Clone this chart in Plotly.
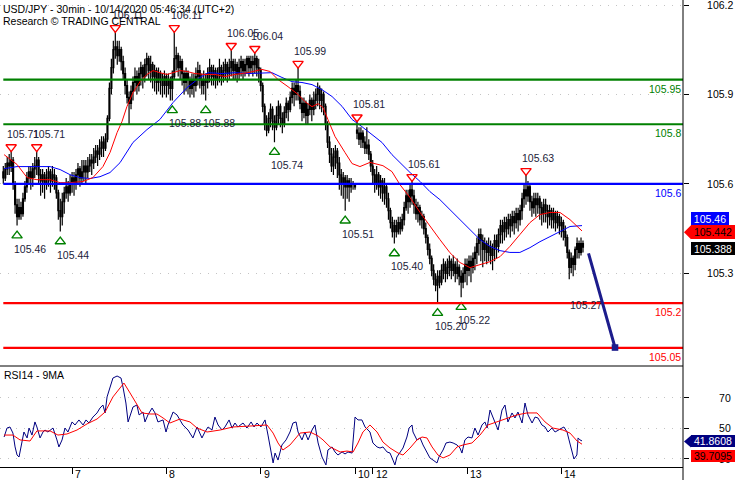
import plotly.graph_objects as go

# ---------------- data ----------------
CLOSE = [
    105.62, 105.65, 105.67, 105.66, 105.68, 105.60, 105.53, 105.49, 105.52, 105.50,
    105.55, 105.59, 105.62, 105.64, 105.62, 105.65, 105.66, 105.68, 105.63, 105.61,
    105.63, 105.60, 105.62, 105.64, 105.61, 105.63, 105.62, 105.57, 105.51, 105.49,
    105.54, 105.57, 105.59, 105.57, 105.60, 105.62, 105.60, 105.63, 105.65, 105.62,
    105.64, 105.66, 105.64, 105.66, 105.68, 105.67, 105.69, 105.71, 105.70, 105.72,
    105.74, 105.72, 105.75, 105.82, 105.92, 105.99, 106.05, 106.06, 106.03, 106.05,
    106.01, 105.97, 105.93, 105.89, 105.87, 105.91, 105.94, 105.96, 105.93, 105.97,
    105.99, 105.96, 106.00, 106.02, 105.98, 106.00, 105.96, 105.98, 105.94, 105.97,
    105.95, 105.93, 105.96, 105.93, 105.95, 105.92, 105.96, 106.02, 106.03, 105.99,
    106.01, 105.97, 105.94, 105.97, 105.95, 105.92, 105.95, 105.93, 105.96, 105.98,
    105.95, 105.93, 105.95, 105.94, 105.97, 105.99, 105.96, 105.98, 105.95, 105.97,
    105.99, 105.96, 105.98, 106.00, 105.97, 105.99, 106.01, 105.98, 106.00, 105.97,
    105.99, 106.01, 105.98, 106.00, 106.02, 105.99, 106.01, 106.00, 106.02, 105.99,
    105.98, 105.93, 105.86, 105.80, 105.78, 105.82, 105.85, 105.81, 105.79, 105.83,
    105.86, 105.82, 105.80, 105.84, 105.87, 105.85, 105.89, 105.92, 105.90, 105.93,
    105.91, 105.87, 105.84, 105.87, 105.83, 105.85, 105.88, 105.85, 105.88, 105.90,
    105.92, 105.88, 105.90, 105.86, 105.80, 105.74, 105.70, 105.66, 105.69, 105.71,
    105.67, 105.63, 105.60, 105.62, 105.59, 105.61, 105.59, 105.60, 105.60, 105.59,
    105.77, 105.75, 105.77, 105.74, 105.72, 105.73, 105.70, 105.66, 105.63, 105.60,
    105.63, 105.59, 105.61, 105.57, 105.59, 105.55, 105.51, 105.47, 105.44, 105.46,
    105.44, 105.47, 105.45, 105.48, 105.52, 105.56, 105.54, 105.58, 105.56, 105.53,
    105.50, 105.52, 105.48, 105.49, 105.45, 105.42, 105.38, 105.35, 105.31, 105.28,
    105.26, 105.29, 105.27, 105.31, 105.33, 105.30, 105.32, 105.34, 105.31, 105.33,
    105.30, 105.32, 105.29, 105.27, 105.30, 105.33, 105.31, 105.34, 105.32, 105.35,
    105.37, 105.40, 105.43, 105.41, 105.38, 105.40, 105.37, 105.39, 105.36, 105.38,
    105.41, 105.39, 105.43, 105.46, 105.44, 105.47, 105.45, 105.48, 105.46, 105.49,
    105.47, 105.50, 105.48, 105.51, 105.55, 105.58, 105.56, 105.59, 105.54, 105.52,
    105.55, 105.53, 105.55, 105.52, 105.50, 105.53, 105.51, 105.49, 105.51, 105.48,
    105.50, 105.47, 105.49, 105.46, 105.47, 105.44, 105.42, 105.37, 105.32, 105.35,
    105.33, 105.38, 105.40, 105.37, 105.40, 105.388,
]
HIGH = [
    105.66, 105.67, 105.69, 105.70, 105.71, 105.69, 105.61, 105.55, 105.55, 105.54,
    105.57, 105.61, 105.64, 105.66, 105.66, 105.67, 105.69, 105.71, 105.69, 105.65,
    105.65, 105.64, 105.65, 105.66, 105.65, 105.66, 105.65, 105.63, 105.58, 105.55,
    105.57, 105.59, 105.62, 105.61, 105.63, 105.64, 105.64, 105.65, 105.67, 105.66,
    105.68, 105.68, 105.68, 105.69, 105.70, 105.70, 105.72, 105.73, 105.73, 105.75,
    105.76, 105.76, 105.77, 105.83, 105.94, 106.02, 106.08, 106.11, 106.08, 106.08,
    106.06, 106.03, 105.99, 105.95, 105.91, 105.93, 105.96, 105.99, 105.98, 105.99,
    106.01, 106.00, 106.02, 106.04, 106.03, 106.03, 106.01, 106.00, 105.99, 105.99,
    105.98, 105.97, 105.98, 105.97, 105.97, 105.96, 105.98, 106.11, 106.06, 106.04,
    106.03, 106.02, 105.98, 105.99, 105.98, 105.96, 105.97, 105.97, 105.99, 106.01,
    106.00, 105.97, 105.98, 105.97, 105.99, 106.02, 106.00, 106.00, 105.99, 105.99,
    106.02, 106.00, 106.01, 106.02, 106.01, 106.02, 106.05, 106.02, 106.02, 106.01,
    106.02, 106.03, 106.02, 106.02, 106.03, 106.03, 106.03, 106.03, 106.04, 106.03,
    106.02, 105.99, 105.94, 105.87, 105.83, 105.84, 105.87, 105.86, 105.83, 105.86,
    105.88, 105.87, 105.84, 105.86, 105.89, 105.88, 105.91, 105.94, 105.94, 105.95,
    105.99, 105.93, 105.89, 105.89, 105.88, 105.87, 105.90, 105.89, 105.91, 105.92,
    105.94, 105.93, 105.92, 105.91, 105.87, 105.81, 105.76, 105.72, 105.72, 105.73,
    105.72, 105.69, 105.65, 105.64, 105.63, 105.63, 105.62, 105.62, 105.61, 105.60,
    105.81, 105.79, 105.79, 105.78, 105.76, 105.79, 105.75, 105.71, 105.68, 105.65,
    105.66, 105.64, 105.63, 105.62, 105.62, 105.60, 105.57, 105.52, 105.49, 105.48,
    105.48, 105.49, 105.49, 105.50, 105.54, 105.58, 105.58, 105.60, 105.61, 105.58,
    105.55, 105.54, 105.53, 105.51, 105.50, 105.47, 105.43, 105.40, 105.36, 105.33,
    105.30, 105.31, 105.31, 105.33, 105.35, 105.34, 105.35, 105.36, 105.35, 105.36,
    105.34, 105.35, 105.33, 105.31, 105.32, 105.35, 105.35, 105.36, 105.36, 105.37,
    105.39, 105.42, 105.45, 105.45, 105.43, 105.42, 105.41, 105.42, 105.41, 105.40,
    105.43, 105.43, 105.45, 105.48, 105.48, 105.49, 105.49, 105.50, 105.50, 105.51,
    105.51, 105.52, 105.52, 105.53, 105.57, 105.60, 105.63, 105.61, 105.60, 105.56,
    105.57, 105.57, 105.57, 105.56, 105.54, 105.55, 105.55, 105.53, 105.53, 105.52,
    105.52, 105.51, 105.51, 105.50, 105.49, 105.48, 105.46, 105.43, 105.38, 105.37,
    105.36, 105.39, 105.42, 105.41, 105.42, 105.41,
]
LOW = [
    105.60, 105.61, 105.63, 105.63, 105.64, 105.58, 105.50, 105.46, 105.48, 105.48,
    105.49, 105.54, 105.57, 105.60, 105.58, 105.59, 105.62, 105.63, 105.60, 105.56,
    105.57, 105.55, 105.58, 105.59, 105.57, 105.59, 105.58, 105.55, 105.48, 105.44,
    105.46, 105.50, 105.55, 105.54, 105.56, 105.57, 105.56, 105.58, 105.60, 105.59,
    105.60, 105.61, 105.60, 105.62, 105.64, 105.63, 105.65, 105.67, 105.66, 105.68,
    105.69, 105.69, 105.71, 105.74, 105.81, 105.90, 105.97, 106.02, 106.00, 106.01,
    105.98, 105.95, 105.90, 105.87, 105.80, 105.85, 105.88, 105.91, 105.90, 105.91,
    105.93, 105.92, 105.94, 105.96, 105.95, 105.94, 105.92, 105.91, 105.90, 105.91,
    105.90, 105.89, 105.90, 105.89, 105.90, 105.88, 105.88, 105.95, 105.98, 105.96,
    105.95, 105.93, 105.90, 105.91, 105.90, 105.89, 105.90, 105.89, 105.91, 105.93,
    105.92, 105.90, 105.90, 105.88, 105.92, 105.94, 105.93, 105.93, 105.92, 105.93,
    105.94, 105.93, 105.94, 105.95, 105.94, 105.95, 105.96, 105.95, 105.95, 105.94,
    105.95, 105.96, 105.95, 105.96, 105.97, 105.96, 105.97, 105.96, 105.97, 105.96,
    105.94, 105.91, 105.84, 105.78, 105.76, 105.77, 105.79, 105.78, 105.74, 105.78,
    105.80, 105.79, 105.77, 105.79, 105.82, 105.81, 105.84, 105.87, 105.86, 105.88,
    105.88, 105.85, 105.81, 105.82, 105.80, 105.80, 105.83, 105.81, 105.83, 105.85,
    105.86, 105.85, 105.84, 105.83, 105.78, 105.72, 105.67, 105.64, 105.63, 105.65,
    105.62, 105.58, 105.56, 105.55, 105.51, 105.55, 105.54, 105.57, 105.58, 105.58,
    105.75, 105.73, 105.72, 105.72, 105.70, 105.70, 105.68, 105.64, 105.60, 105.57,
    105.58, 105.56, 105.55, 105.54, 105.53, 105.52, 105.48, 105.45, 105.42, 105.40,
    105.42, 105.43, 105.43, 105.44, 105.46, 105.51, 105.50, 105.52, 105.53, 105.50,
    105.48, 105.47, 105.46, 105.45, 105.43, 105.40, 105.36, 105.33, 105.29, 105.26,
    105.24, 105.20, 105.25, 105.26, 105.28, 105.27, 105.28, 105.29, 105.28, 105.29,
    105.27, 105.28, 105.26, 105.22, 105.25, 105.27, 105.26, 105.29, 105.27, 105.30,
    105.31, 105.33, 105.36, 105.34, 105.32, 105.34, 105.33, 105.34, 105.33, 105.31,
    105.34, 105.35, 105.37, 105.40, 105.40, 105.41, 105.42, 105.43, 105.42, 105.44,
    105.43, 105.45, 105.44, 105.46, 105.48, 105.52, 105.53, 105.54, 105.51, 105.49,
    105.50, 105.49, 105.50, 105.48, 105.46, 105.47, 105.47, 105.45, 105.46, 105.45,
    105.45, 105.44, 105.45, 105.43, 105.42, 105.41, 105.39, 105.35, 105.28, 105.30,
    105.29, 105.31, 105.35, 105.35, 105.36, 105.37,
]
FIRST_OPEN = 105.64
GAP_OPENS = {180: 105.78}

RED_MA_X = [0.4, 7.0, 12.1, 17.1, 23.8, 28.9, 33.9, 40.6, 45.6, 50.7,
            54.3, 57.9, 60.4, 62.9, 66.0, 69.6, 73.1, 76.2, 79.7, 83.3,
            86.4, 89.9, 93.5, 97.6, 102.6, 107.7, 112.8, 117.9, 124.5, 131.6,
            135.7, 139.8, 144.9, 150.0, 153.5, 157.1, 160.2, 162.7, 165.2, 168.8,
            173.9, 177.5, 181.5, 186.6, 193.2, 197.8, 201.9, 207.0, 212.1, 217.1,
            222.2, 227.3, 232.4, 237.5, 242.6, 247.7, 252.8, 257.8, 262.9, 268.0,
            273.1, 278.2, 283.3, 288.4, 294.5]
RED_MA_Y = [105.698, 105.665, 105.621, 105.614, 105.614, 105.604, 105.604, 105.608, 105.621, 105.658,
            105.705, 105.772, 105.809, 105.859, 105.906, 105.943, 105.967, 105.980, 105.973, 105.967,
            105.973, 105.980, 105.977, 105.970, 105.967, 105.967, 105.960, 105.967, 105.973, 105.984,
            105.977, 105.950, 105.926, 105.900, 105.876, 105.859, 105.869, 105.856, 105.816, 105.759,
            105.705, 105.668, 105.658, 105.672, 105.661, 105.641, 105.597, 105.554, 105.504, 105.457,
            105.413, 105.369, 105.336, 105.319, 105.329, 105.339, 105.356, 105.390, 105.430, 105.470,
            105.497, 105.504, 105.504, 105.480, 105.442]

BLUE_MA_X = [0.4, 7.0, 15.1, 23.8, 28.9, 33.9, 39.0, 44.1, 49.2, 54.3,
             59.4, 66.0, 73.1, 79.7, 86.4, 93.5, 100.1, 104.2, 111.3, 117.9,
             124.5, 131.6, 136.7, 141.8, 146.9, 152.0, 157.1, 162.2, 167.3, 172.4,
             177.5, 182.5, 187.6, 192.7, 197.8, 201.9, 207.0, 212.1, 217.1, 222.2,
             227.3, 232.4, 237.5, 242.6, 247.7, 252.8, 257.8, 262.9, 268.0, 273.1,
             278.2, 283.3, 288.4, 294.5]
BLUE_MA_Y = [105.651, 105.658, 105.658, 105.658, 105.648, 105.631, 105.621, 105.618, 105.624, 105.638,
             105.671, 105.739, 105.782, 105.816, 105.873, 105.923, 105.957, 105.973, 105.970, 105.973,
             105.970, 105.973, 105.973, 105.957, 105.943, 105.940, 105.933, 105.916, 105.893, 105.860,
             105.816, 105.792, 105.765, 105.739, 105.698, 105.671, 105.638, 105.608, 105.574, 105.547,
             105.514, 105.480, 105.447, 105.413, 105.390, 105.376, 105.370, 105.370, 105.386, 105.406,
             105.423, 105.440, 105.457, 105.460]

RSI_X = [0.4, 1.9, 3.4, 4.9, 6.0, 7.0, 8.0, 9.5, 10.5, 12.1,
         13.1, 14.6, 16.1, 17.1, 18.7, 20.2, 21.2, 22.7, 25.3, 27.3,
         28.3, 29.9, 31.4, 32.9, 35.0, 36.5, 38.5, 40.6, 42.1, 43.6,
         45.6, 47.7, 49.2, 50.7, 51.8, 52.8, 54.3, 55.8, 57.9, 59.9,
         60.9, 62.4, 63.5, 65.0, 66.0, 68.0, 69.1, 71.1, 72.1, 73.6,
         75.7, 77.2, 78.7, 81.3, 82.8, 83.8, 86.4, 88.4, 89.9, 91.4,
         94.0, 96.5, 98.6, 99.6, 101.1, 102.6, 104.2, 106.2, 107.7, 109.3,
         111.3, 112.8, 114.9, 116.4, 117.9, 119.4, 122.0, 124.0, 126.1, 127.6,
         129.1, 131.1, 133.2, 134.7, 136.2, 137.3, 138.3, 139.8, 141.8, 143.9,
         145.9, 147.4, 149.0, 150.0, 152.0, 153.5, 155.1, 157.1, 158.6, 160.2,
         162.2, 164.2, 165.2, 167.3, 168.8, 170.3, 172.4, 173.9, 175.4, 177.5,
         179.0, 180.5, 182.5, 184.1, 185.6, 186.6, 188.1, 190.2, 191.7, 193.2,
         195.3, 196.8, 198.3, 199.3, 200.3, 201.9, 203.4, 205.4, 206.5, 208.0,
         208.5, 210.5, 212.1, 213.6, 215.6, 217.1, 218.7, 220.7, 221.7, 223.8,
         225.3, 227.3, 228.9, 230.9, 232.4, 233.4, 234.9, 236.5, 238.5, 240.0,
         241.6, 243.6, 245.1, 246.2, 247.7, 249.2, 250.2, 251.8, 253.8, 255.3,
         256.8, 258.9, 260.4, 261.9, 264.0, 265.5, 267.0, 269.1, 270.6, 272.1,
         274.1, 275.7, 277.2, 279.2, 280.8, 282.3, 284.3, 285.3, 286.9, 287.9,
         289.4, 290.4, 291.9, 292.5, 293.5, 294.5]
RSI_Y = [44.4, 50.3, 51.0, 47.0, 37.9, 32.6, 31.3, 40.5, 47.7, 43.8,
         50.3, 45.7, 54.3, 51.0, 43.8, 47.7, 49.0, 47.7, 50.3, 42.5,
         37.9, 42.5, 50.3, 47.7, 54.3, 52.3, 55.6, 52.3, 55.6, 53.6,
         57.5, 60.2, 63.4, 65.4, 60.2, 70.7, 77.2, 83.1, 84.4, 83.1,
         77.2, 66.7, 54.3, 60.8, 64.1, 65.4, 58.9, 60.8, 54.3, 58.9,
         63.4, 60.2, 54.3, 55.6, 47.7, 52.3, 60.8, 58.9, 55.6, 52.3,
         49.0, 43.8, 51.0, 47.7, 43.8, 47.7, 51.0, 49.0, 57.5, 52.3,
         49.0, 51.0, 55.6, 50.3, 53.6, 51.0, 53.6, 50.3, 54.3, 51.0,
         53.6, 51.0, 55.6, 45.7, 33.9, 27.4, 33.9, 29.3, 39.2, 42.5,
         47.7, 53.6, 54.3, 47.7, 42.5, 47.7, 42.5, 49.0, 52.3, 40.5,
         31.3, 26.1, 35.9, 37.9, 34.6, 32.6, 34.6, 33.3, 34.6, 33.9,
         57.5, 55.6, 55.6, 51.0, 49.0, 47.7, 40.5, 37.9, 37.2, 37.9,
         34.6, 33.9, 29.3, 26.1, 31.3, 34.6, 37.2, 44.4, 50.3, 52.3,
         47.7, 42.5, 43.8, 39.2, 33.9, 30.7, 29.3, 27.4, 31.3, 35.9,
         40.5, 41.1, 40.5, 39.2, 37.2, 33.9, 42.5, 44.4, 43.8, 50.3,
         45.7, 52.3, 54.3, 50.3, 62.1, 57.5, 54.3, 49.0, 62.1, 65.4,
         54.3, 60.2, 56.9, 60.8, 53.6, 66.7, 58.9, 53.6, 57.5, 56.9,
         52.3, 51.0, 47.7, 50.3, 47.7, 49.0, 50.3, 51.0, 47.7, 42.5,
         35.9, 30.0, 32.6, 43.8, 42.5, 41.86]

RSI_MA_X = [0.4, 4.9, 8.5, 13.6, 17.1, 23.8, 27.8, 32.4, 37.5, 42.6,
            47.7, 51.8, 55.8, 61.4, 64.5, 68.0, 70.6, 74.7, 78.2, 81.3,
            84.8, 89.9, 95.0, 98.6, 103.7, 110.3, 116.9, 125.5, 134.2, 137.3,
            139.8, 142.3, 145.9, 151.0, 156.1, 160.2, 162.7, 166.3, 171.4, 174.9,
            178.0, 180.5, 183.0, 186.6, 190.2, 193.2, 196.8, 200.9, 203.4, 207.0,
            210.5, 213.1, 215.6, 218.2, 221.2, 223.8, 227.3, 230.9, 234.0, 238.5,
            242.6, 246.6, 251.2, 256.3, 261.4, 266.5, 271.6, 275.7, 279.7, 284.8,
            288.4, 292.0, 294.5]
RSI_MA_Y = [45.7, 45.7, 42.5, 41.8, 48.4, 48.4, 45.7, 46.4, 49.0, 53.0,
            56.2, 60.8, 70.7, 79.8, 73.3, 65.4, 60.2, 59.5, 59.5, 56.9,
            53.6, 56.2, 54.3, 50.3, 47.7, 49.0, 51.0, 51.6, 52.3, 47.0,
            40.5, 35.9, 39.2, 47.0, 47.7, 45.1, 42.5, 37.9, 34.6, 35.2,
            34.6, 40.5, 47.7, 52.3, 47.7, 41.1, 37.2, 33.9, 32.6, 37.2,
            42.5, 44.4, 43.8, 37.9, 32.6, 30.7, 32.6, 37.9, 39.2, 40.5,
            45.7, 52.3, 54.3, 56.9, 58.9, 60.2, 60.2, 54.3, 50.3, 49.0,
            47.0, 41.8, 39.71]

LEVELS = [105.95, 105.8, 105.6, 105.2, 105.05]
LEVEL_TEXT = ["105.95", "105.8", "105.6", "105.2", "105.05"]
LEVEL_COLORS = ["#008000", "#008000", "#0000ff", "#ff0000", "#ff0000"]

PEAK_IDX = [4, 17, 57, 87, 116, 128, 150, 180, 208, 266]
PEAK_VAL = [105.71, 105.71, 106.11, 106.11, 106.05, 106.04, 105.99, 105.81, 105.61, 105.63]
TROUGH_IDX = [7, 29, 86, 103, 138, 174, 199, 221, 233]
TROUGH_VAL = [105.46, 105.44, 105.88, 105.88, 105.74, 105.51, 105.40, 105.20, 105.22]
PENDING_IDX = [290]
PENDING_VAL = [105.27]

DAY_TICK_IDX = [35, 83, 131, 179, 188, 236, 284]
DAY_TICK_TEXT = ["7", "8", "9", "10", "12", "13", "14"]
PRICE_TICKS = [105.3, 105.6, 105.9, 106.2]
RSI_TICKS = [30, 50, 70]

LAST_BLUE_MA = 105.46
LAST_RED_MA = 105.442
LAST_CLOSE = 105.388
LAST_RSI = 41.8608
LAST_RSI_MA = 39.7095

ARROW_FROM = (297.6, 105.372)
ARROW_TO = (311.3, 105.051)

TITLE_1 = "USD/JPY - 30min - 10/14/2020 05:46:34 (UTC+2)"
TITLE_2 = "Research \u00a9 TRADING CENTRAL"
RSI_TITLE = "RSI14 - 9MA"

# ---------------- layout constants ----------------
W, H = 735, 480
PLOT_RIGHT = 683
MAIN_BOTTOM = 366
RSI_BOTTOM = 467
X_RANGE = [-1.68, 345.9]
PRICE_RANGE = [104.989, 106.2168]
RSI_RANGE = [24.75, 90.98]
FONT = "Liberation Sans, Arial, sans-serif"
FS = 10.5
LABEL_COLOR = "#1c1c3a"

xdom = [0, PLOT_RIGHT / W]
main_dom = [1 - MAIN_BOTTOM / H, 1]
rsi_dom = [1 - RSI_BOTTOM / H, 1 - MAIN_BOTTOM / H]
price_per_px = (PRICE_RANGE[1] - PRICE_RANGE[0]) / MAIN_BOTTOM
rsi_per_px = (RSI_RANGE[1] - RSI_RANGE[0]) / (RSI_BOTTOM - MAIN_BOTTOM)
RED_OFF = 4 * price_per_px
GREEN_OFF = 10 * price_per_px

# ---------------- candles ----------------
opens = []
for i in range(len(CLOSE)):
    if i in GAP_OPENS:
        opens.append(GAP_OPENS[i])
    elif i == 0:
        opens.append(FIRST_OPEN)
    else:
        opens.append(CLOSE[i - 1])
highs = [max(h, o, c) for h, o, c in zip(HIGH, opens, CLOSE)]
lows = [min(l, o, c) for l, o, c in zip(LOW, opens, CLOSE)]
xs = list(range(len(CLOSE)))

fig = go.Figure()
fig.add_trace(go.Candlestick(
    x=xs, open=opens, high=highs, low=lows, close=CLOSE,
    xaxis="x", yaxis="y",
    increasing=dict(line=dict(color="black", width=1.2), fillcolor="white"),
    decreasing=dict(line=dict(color="black", width=1.2), fillcolor="black"),
    whiskerwidth=0, showlegend=False, hoverinfo="skip"))

fig.add_trace(go.Scatter(x=BLUE_MA_X, y=BLUE_MA_Y, mode="lines", xaxis="x", yaxis="y",
                         line=dict(color="#0000ff", width=1), showlegend=False, hoverinfo="skip"))
fig.add_trace(go.Scatter(x=RED_MA_X, y=RED_MA_Y, mode="lines", xaxis="x", yaxis="y",
                         line=dict(color="#ff0000", width=1), showlegend=False, hoverinfo="skip"))

fig.add_trace(go.Scatter(
    x=PEAK_IDX, y=[v + RED_OFF for v in PEAK_VAL], mode="markers", xaxis="x", yaxis="y",
    marker=dict(symbol="triangle-down-open", size=9, color="#ff0000", line=dict(width=1.4, color="#ff0000")),
    showlegend=False, hoverinfo="skip"))
fig.add_trace(go.Scatter(
    x=TROUGH_IDX, y=[v - GREEN_OFF for v in TROUGH_VAL], mode="markers", xaxis="x", yaxis="y",
    marker=dict(symbol="triangle-up-open", size=9, color="#008000", line=dict(width=1.4, color="#008000")),
    showlegend=False, hoverinfo="skip"))

# RSI panel
fig.add_trace(go.Scatter(x=RSI_X, y=RSI_Y, mode="lines", xaxis="x2", yaxis="y2",
                         line=dict(color="#000080", width=1), showlegend=False, hoverinfo="skip"))
fig.add_trace(go.Scatter(x=RSI_MA_X, y=RSI_MA_Y, mode="lines", xaxis="x2", yaxis="y2",
                         line=dict(color="#ff0000", width=1), showlegend=False, hoverinfo="skip"))

# ---------------- shapes ----------------
shapes = []
for lv, col in zip(LEVELS, LEVEL_COLORS):
    shapes.append(dict(type="line", xref="x", yref="y", x0=0, x1=X_RANGE[1], y0=lv, y1=lv,
                       line=dict(color=col, width=2.2)))
shapes.append(dict(type="line", xref="paper", yref="paper", x0=PLOT_RIGHT / W, x1=PLOT_RIGHT / W,
                   y0=0, y1=1, line=dict(color="black", width=1)))
shapes.append(dict(type="line", xref="paper", yref="paper", x0=0, x1=PLOT_RIGHT / W,
                   y0=1 - MAIN_BOTTOM / H, y1=1 - MAIN_BOTTOM / H, line=dict(color="black", width=1)))


def pointer(value, yref, per_px, color, half_h):
    tip = (PLOT_RIGHT + 1) / W
    base = (PLOT_RIGHT + 8) / W
    return dict(type="path", xref="paper", yref=yref,
                path=f"M {tip},{value} L {base},{value + half_h * per_px} L {base},{value - half_h * per_px} Z",
                fillcolor=color, line=dict(width=0))


shapes.append(pointer(LAST_RED_MA - 1.4 * price_per_px, "y", price_per_px, "#ff0000", 7))
shapes.append(pointer(LAST_RSI - 0.5 * rsi_per_px, "y2", rsi_per_px, "#000080", 6))

# ---------------- annotations ----------------
ann = []
font = dict(family=FONT, size=FS, color=LABEL_COLOR)
for i, v in zip(PEAK_IDX, PEAK_VAL):
    ann.append(dict(x=i, y=v + RED_OFF, xref="x", yref="y", text=f"{v:.2f}", showarrow=False,
                    xshift=12, yshift=13, font=font, borderpad=0))
for i, v in zip(TROUGH_IDX, TROUGH_VAL):
    ann.append(dict(x=i, y=v - GREEN_OFF, xref="x", yref="y", text=f"{v:.2f}", showarrow=False,
                    xshift=13, yshift=-13, font=font, borderpad=0))
for i, v in zip(PENDING_IDX, PENDING_VAL):
    ann.append(dict(x=i, y=v - GREEN_OFF, xref="x", yref="y", text=f"{v:.2f}", showarrow=False,
                    xshift=13, yshift=-13, font=font, borderpad=0))

for lv, txt, col in zip(LEVELS, LEVEL_TEXT, LEVEL_COLORS):
    ann.append(dict(x=(PLOT_RIGHT - 1) / W, y=lv, xref="paper", yref="y", text=txt, showarrow=False,
                    xanchor="right", yanchor="top", yshift=-2, borderpad=0,
                    font=dict(family=FONT, size=FS, color=col)))

for tv, tt in zip(DAY_TICK_IDX, DAY_TICK_TEXT):
    ann.append(dict(x=tv, y=1 - 474 / H, xref="x2", yref="paper", text=tt, showarrow=False,
                    xanchor="left", yanchor="middle", xshift=2, borderpad=0,
                    font=dict(family=FONT, size=FS, color="black")))


def box(text, y, yref, bg, fg, left_px, width, height, yshift):
    return dict(x=left_px / W, y=y, xref="paper", yref=yref, text=text, showarrow=False,
                xanchor="left", yanchor="middle", yshift=yshift, width=width, height=height,
                bgcolor=bg, borderpad=0, borderwidth=0, align="center",
                font=dict(family=FONT, size=FS, color=fg))


ann.append(box(f"{LAST_BLUE_MA:.2f}", LAST_BLUE_MA, "y", "#0000ff", "white", 691, 38, 13, 7.6))
ann.append(box(f"{LAST_RED_MA:.3f}", LAST_RED_MA, "y", "#ff0000", "black", 691, 44, 14, -1.4))
ann.append(box(f"{LAST_CLOSE:.3f}", LAST_CLOSE, "y", "#000000", "white", 691, 44, 13, -1))
ann.append(box(f"{LAST_RSI:.4f}", LAST_RSI, "y2", "#000080", "white", 691, 44, 12, -0.5))
ann.append(box(f"{LAST_RSI_MA:.4f}", LAST_RSI_MA, "y2", "#ff0000", "black", 691, 44, 12, -12))

ann.append(dict(x=ARROW_TO[0], y=ARROW_TO[1], ax=ARROW_FROM[0], ay=ARROW_FROM[1],
                xref="x", yref="y", axref="x", ayref="y", text="", showarrow=True,
                arrowhead=7, arrowsize=0.55, arrowwidth=3, arrowcolor="#1c1c8c"))

for txt, ypx, xpx in [(TITLE_1, 9, 2), (TITLE_2, 21, 2), (RSI_TITLE, 375, 3)]:
    ann.append(dict(x=xpx / W, y=1 - ypx / H, xref="paper", yref="paper", text=txt, showarrow=False,
                    xanchor="left", yanchor="middle", borderpad=0,
                    font=dict(family=FONT, size=FS, color="black")))

fig.update_layout(
    width=W, height=H, margin=dict(l=0, r=0, t=0, b=0),
    paper_bgcolor="white", plot_bgcolor="white",
    font=dict(family=FONT, size=FS, color="black"),
    showlegend=False, hovermode=False,
    shapes=shapes, annotations=ann,
    xaxis=dict(domain=xdom, range=X_RANGE, anchor="y", showgrid=False, zeroline=False,
               showticklabels=False, ticks="", rangeslider=dict(visible=False), fixedrange=True),
    yaxis=dict(domain=main_dom, range=PRICE_RANGE, anchor="x", side="right",
               tickvals=PRICE_TICKS, ticktext=[f"{v:.1f}" for v in PRICE_TICKS],
               ticks="outside", ticklen=5, tickcolor="black", tickwidth=1,
               showgrid=True, gridcolor="#c4c4c4", griddash="1px,7px", gridwidth=1,
               zeroline=False, showline=False, ticklabelstandoff=16, ticklabeloverflow="allow",
               tickfont=dict(family=FONT, size=FS, color="black"), fixedrange=True),
    xaxis2=dict(domain=xdom, range=X_RANGE, anchor="y2", tickvals=DAY_TICK_IDX,
                ticks="outside", ticklen=6, tickcolor="black", showticklabels=False,
                showline=True, linecolor="black", linewidth=1, showgrid=False, zeroline=False,
                fixedrange=True),
    yaxis2=dict(domain=rsi_dom, range=RSI_RANGE, anchor="x2", side="right",
                tickvals=RSI_TICKS, ticks="outside", ticklen=5, tickcolor="black",
                showgrid=True, gridcolor="#c4c4c4", griddash="1px,7px", gridwidth=1,
                zeroline=False, showline=False, ticklabelstandoff=28, ticklabeloverflow="allow",
                tickfont=dict(family=FONT, size=FS, color="black"), fixedrange=True),
)

fig.write_html("out.html", config={"displayModeBar": False},
               post_script="document.body.style.margin='0';document.body.style.overflow='hidden';")
